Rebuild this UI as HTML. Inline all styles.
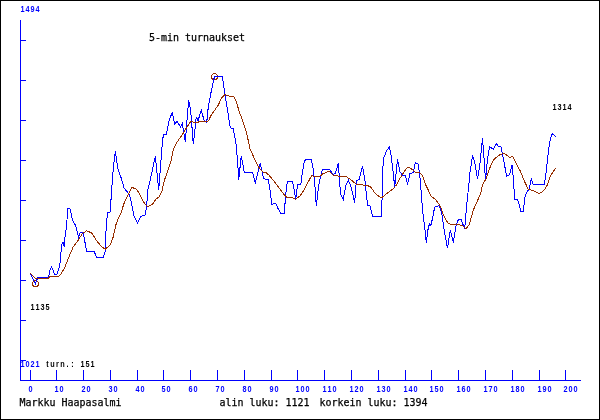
<!DOCTYPE html>
<html><head><meta charset="utf-8"><title>5-min turnaukset</title>
<style>html,body{margin:0;padding:0;background:#fff;overflow:hidden}svg{display:block}</style>
</head><body>
<svg width="600" height="420" viewBox="0 0 600 420" shape-rendering="crispEdges">
<rect x="0.5" y="0.5" width="599" height="419" fill="#fff" stroke="#000" stroke-width="1"/>
<path d="M20.5 20V380.5M20 380.5H581M20 40.5H26M20 80.5H26M20 120.5H26M20 160.5H26M20 200.5H26M20 240.5H26M20 280.5H26M20 320.5H26M20 360.5H26M30.5 370V380M56.5 370V380M83.5 370V380M110.5 370V380M137.5 370V380M163.5 370V380M190.5 370V380M217.5 370V380M244.5 370V380M271.5 370V380M297.5 370V380M324.5 370V380M351.5 370V380M378.5 370V380M405.5 370V380M431.5 370V380M458.5 370V380M485.5 370V380M512.5 370V380M539.5 370V380M565.5 370V380" stroke="#0000ff" stroke-width="1" fill="none"/>
<g font-family="'Liberation Sans','DejaVu Sans',sans-serif" font-weight="bold" font-size="8.5px" text-anchor="middle" fill="#0000ff"><text transform="scale(0.86,1)" x="35.47" y="392" xml:space="preserve">0</text><text transform="scale(0.86,1)" x="65.70 71.51" y="392" xml:space="preserve">10</text><text transform="scale(0.86,1)" x="97.09 102.91" y="392" xml:space="preserve">20</text><text transform="scale(0.86,1)" x="128.49 134.30" y="392" xml:space="preserve">30</text><text transform="scale(0.86,1)" x="159.88 165.70" y="392" xml:space="preserve">40</text><text transform="scale(0.86,1)" x="190.12 195.93" y="392" xml:space="preserve">50</text><text transform="scale(0.86,1)" x="221.51 227.33" y="392" xml:space="preserve">60</text><text transform="scale(0.86,1)" x="252.91 258.72" y="392" xml:space="preserve">70</text><text transform="scale(0.86,1)" x="284.30 290.12" y="392" xml:space="preserve">80</text><text transform="scale(0.86,1)" x="315.70 321.51" y="392" xml:space="preserve">90</text><text transform="scale(0.86,1)" x="345.93 351.74 357.56" y="392" xml:space="preserve">100</text><text transform="scale(0.86,1)" x="377.33 383.14 388.95" y="392" xml:space="preserve">110</text><text transform="scale(0.86,1)" x="408.72 414.53 420.35" y="392" xml:space="preserve">120</text><text transform="scale(0.86,1)" x="440.12 445.93 451.74" y="392" xml:space="preserve">130</text><text transform="scale(0.86,1)" x="471.51 477.33 483.14" y="392" xml:space="preserve">140</text><text transform="scale(0.86,1)" x="501.74 507.56 513.37" y="392" xml:space="preserve">150</text><text transform="scale(0.86,1)" x="533.14 538.95 544.77" y="392" xml:space="preserve">160</text><text transform="scale(0.86,1)" x="564.53 570.35 576.16" y="392" xml:space="preserve">170</text><text transform="scale(0.86,1)" x="595.93 601.74 607.56" y="392" xml:space="preserve">180</text><text transform="scale(0.86,1)" x="627.33 633.14 638.95" y="392" xml:space="preserve">190</text><text transform="scale(0.86,1)" x="657.56 663.37 669.19" y="392" xml:space="preserve">200</text><text transform="scale(0.86,1)" x="26.16 31.98 37.79 43.60" y="12" xml:space="preserve">1494</text><text transform="scale(0.86,1)" x="26.16 31.98 37.79 43.60" y="367" xml:space="preserve">1021</text></g>
<g font-family="'Liberation Sans','DejaVu Sans',sans-serif" font-weight="bold" font-size="8.5px" text-anchor="middle" fill="#000"><text transform="scale(0.86,1)" x="55.23 61.05 66.86 72.67 78.49 84.30 90.12 95.93 101.74 107.56" y="367" xml:space="preserve">turn.: 151</text><text transform="scale(0.86,1)" x="37.79 43.60 49.42 55.23" y="310" xml:space="preserve">1135</text><text transform="scale(0.86,1)" x="644.77 650.58 656.40 662.21" y="110" xml:space="preserve">1314</text></g>
<g font-family="'DejaVu Sans Mono','Liberation Mono',monospace" font-size="10px" fill="#000" stroke="#000" stroke-width="0.25"><text x="149" y="41" textLength="96" lengthAdjust="spacingAndGlyphs">5-min turnaukset</text><text x="19.5" y="406" textLength="102" lengthAdjust="spacingAndGlyphs">Markku Haapasalmi</text><text x="219.5" y="406" textLength="90" lengthAdjust="spacingAndGlyphs" xml:space="preserve">alin luku: 1121</text><text x="319.5" y="406" textLength="108" lengthAdjust="spacingAndGlyphs" xml:space="preserve">korkein luku: 1394</text></g>
<circle cx="35.5" cy="283.5" r="3" fill="none" stroke="#962d00" stroke-width="1"/>
<circle cx="214.5" cy="76.5" r="3" fill="none" stroke="#962d00" stroke-width="1"/>
<polyline points="30.3,273.2 35.4,283.6 37.8,277.5 47.3,277.5 48.7,276.5 49.5,271.5 51.4,267 52.8,269 54.2,273.5 55.3,274.6 56.8,274.4 58.3,270.5 59.8,265 61.7,245 63,241.7 64.2,246.7 65,236.7 66.3,228.3 67,220 67.5,208.3 70,208.7 72.5,220 75.8,225.8 78.7,237.5 80.3,232 83,232.5 84.2,238.3 86.7,251.2 94.2,251.6 96.7,257.5 103,257.5 105,252.5 106.3,225 107.5,212.5 110.2,212 111.5,192 112.5,178.3 113.5,166.7 115.4,151.3 117.7,168 121.3,178.3 124.2,188.3 129.2,194.2 130.8,200 134.2,216.7 137.5,223.3 140.8,216.3 145,215 146.7,206.7 147.5,191.7 151.7,173.3 155.3,156.3 158.7,190 160.8,163.3 162.5,140 163.7,134.2 166.3,134.2 169.2,120 172.2,112.5 174.7,124.2 177,121.3 180.5,127 182.2,123.3 185.3,141.7 187,120 188.7,100.3 190.8,111.7 193.3,144.2 196.3,116.7 198,120.8 201.3,110.3 204.2,120.8 206.7,122.5 208.3,106.7 211.3,91 213.3,81.5 214.5,76.5 222.5,76.5 222.9,80 224.5,92 225.8,100 227.5,110 230.2,127.5 233.3,128.9 235.8,141.7 237.5,160 238.7,179.5 241.3,155.8 244.2,172 252.5,172.5 255.3,183 260.2,163.5 263.7,178.8 268.3,179.5 270,190 271.7,204.2 275.8,203.3 278.3,209.2 280.8,213.3 284.2,213.3 285.3,200 286.3,188.3 287.5,181.3 292.5,181.3 294.2,190 295.8,199.2 297.5,185 300.8,184.2 302.5,171.7 304.2,161.7 305.8,159.5 311.3,159.5 313.5,171 315,186.7 316.3,206.3 318.5,187 320.8,175.5 322.5,169.7 330,169.7 333,174.8 335.5,173 338.3,163.5 340.5,194.2 343.3,199.2 345.8,185.8 348.3,180 350.8,185.8 354.7,202.5 356.3,180.8 359.2,179.2 362.5,166.3 365,180.8 367.5,205 370,205.8 372.5,216.3 381.7,216.3 382.5,174 383.5,158.3 386.7,150.5 389.5,147 391.3,156.7 392.5,166.7 394.7,186.8 397.5,159.2 400,171.7 402.5,175.2 405.3,175.3 407.5,184.4 410,173.5 413.3,172.5 415.3,162.5 418.3,164.2 420,178.3 421.3,193.3 422.5,210 425,230 426.3,242.5 428.3,227.5 429.7,223.7 430.8,225.8 432.5,218.3 434.7,207 439.2,205.8 441.7,213.3 444.7,233.3 447.5,248.3 450.3,230 453.3,242.5 455.8,226.7 458.3,219.7 461.3,219.7 464.7,229.2 466.3,210 467.5,197 468.5,188.3 470,172 472.5,156.3 474.7,161.7 477.5,179.2 480,163.3 482.5,138.3 483.8,155 485.5,180.8 487.5,158.3 489.7,146.7 493.3,149.2 496.3,143.3 498.3,146.3 500.8,146.3 503,156.7 504.2,163.3 506.7,176.3 509.7,174.6 512.2,164.7 513.3,179 514.7,199.2 517.5,199.7 519.2,205 520.8,211.3 523.3,211.3 524.7,198.3 526.3,193.3 529.2,188.8 531.3,179.2 533.3,184.4 544.4,184.4 545.8,175 547.5,160 549.2,145 550.8,137.5 552.5,133.3 555.8,136.7" fill="none" stroke="#0000ff" stroke-width="1"/>
<polyline points="30.3,273.3 35,278.2 37.5,278.5 48.2,278.5 50,276.5 58.2,276.4 60,275.3 62.5,271.3 65,267 68.3,258.3 73.3,246.7 78.3,240 82.5,233.3 86.7,230.8 91.7,233 96.7,240.8 101.7,246.7 105.2,249.2 110.5,244.6 113.3,236.7 115.8,225 118.3,218.3 120.8,213.3 124.2,203 128.6,193.5 131.7,187.5 135.8,188.7 138.3,191.7 143.3,201.7 147.5,206.7 152.5,204.2 155.8,199.2 159.2,196.7 162,190.8 164.2,180.8 167.5,171.7 170.8,161.7 173.3,149.5 176.7,142.5 181.7,135.7 186.7,127.5 190.8,121.5 195,122.5 200,121.8 206,121.5 208.5,120.8 211,115.5 214.5,110.5 218,105.5 221.7,97.8 225,94.7 229.5,96.2 233.9,96.7 236.7,102.5 239.2,112 242.5,120 246.7,133.3 250,148.8 255,160 259.5,168.5 262.8,172 265.5,172.3 269,175.2 272,178.8 278.3,186.7 283.3,193.7 286.7,197.2 291.7,197.5 295.8,199.2 300,195.8 304.2,190 308.3,181.7 311.7,175.5 315.8,176.7 319,177 323.3,173.5 329.2,171.3 333.3,175 340.8,176.7 345.8,176.3 350.8,179.7 356.7,184.5 363.3,185 370,186.3 375,193 379.2,196.7 382,197.5 385.8,194.2 391.7,190 395.5,186.5 400.5,177.5 404.6,170.8 408.1,167 411.7,169.2 415.8,172.5 420,173 422.5,175.8 425.8,185 431.2,196.2 435.8,199.6 440,205.8 444.2,216.7 448.3,223.8 453.3,224.5 458.3,224.5 462.5,225.8 465.8,228.7 469.2,225 473.3,210 477.5,200.8 480.6,193.5 482.5,185 485.8,179.2 490,167.5 493.8,159.6 498.3,155.6 501,154.2 504.2,153.5 507.3,155.6 510,157.5 512.5,156.3 515.8,162.9 520,170.4 524.2,180.8 528.2,189.2 533.3,190.8 539.2,193.8 542.5,191.5 545,189.3 548,183.5 550,177 553,172 555.8,168" fill="none" stroke="#962d00" stroke-width="1"/>
</svg>
</body></html>
